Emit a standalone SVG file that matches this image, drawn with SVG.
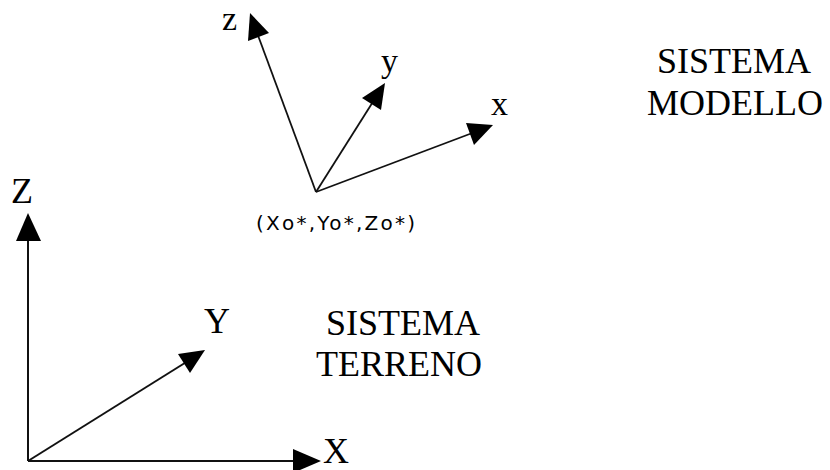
<svg xmlns="http://www.w3.org/2000/svg" width="830" height="470" viewBox="0 0 830 470">
<defs>
<style>
.ax{stroke:#111;fill:none}
.m{stroke-width:1.8}
.t{stroke-width:2}
.hd{fill:#000;stroke:none}
.lbl{font-family:"Liberation Serif","Times New Roman",serif;fill:#000}
.big{font-size:36px}
.sm{font-size:34px}
.co{font-family:"DejaVu Sans",Verdana,sans-serif;font-size:20px;fill:#000}
</style>
</defs>
<rect width="830" height="470" fill="#fff"/>
<g id="connectors">
<line class="ax m" x1="316" y1="192" x2="256" y2="30"/>
<polygon class="hd" points="250,13 269,33 248,41"/>
<line class="ax m" x1="316" y1="192" x2="376" y2="97"/>
<polygon class="hd" points="385,83 381,110 362,98"/>
<line class="ax m" x1="316" y1="192" x2="475" y2="132"/>
<polygon class="hd" points="493,125 474,145 466,123"/>
<line class="ax t" x1="28" y1="461" x2="28" y2="238"/>
<polygon class="hd" points="28,213 41,241 16,241"/>
<line class="ax t" x1="28" y1="461" x2="296" y2="461"/>
<polygon class="hd" points="321,461 293,449 293,473"/>
<line class="ax t" x1="28" y1="461" x2="188" y2="361"/>
<polygon class="hd" points="205,350 190,373 178,354"/>
</g>
<g id="modello">
<text class="lbl sm" x="222" y="30">z</text>
<text class="lbl sm" x="381" y="72">y</text>
<text class="lbl sm" x="491" y="115">x</text>
<text class="co" x="256" y="230" textLength="159" lengthAdjust="spacing">(Xo*,Yo*,Zo*)</text>
<text class="lbl big" x="657" y="73">SISTEMA</text>
<text class="lbl big" x="647" y="115">MODELLO</text>
</g>
<g id="terreno">
<text class="lbl big" x="11" y="203">Z</text>
<text class="lbl big" x="204" y="333">Y</text>
<text class="lbl big" x="323" y="463">X</text>
<text class="lbl big" x="326" y="335">SISTEMA</text>
<text class="lbl big" x="316" y="376">TERRENO</text>
</g>
</svg>
